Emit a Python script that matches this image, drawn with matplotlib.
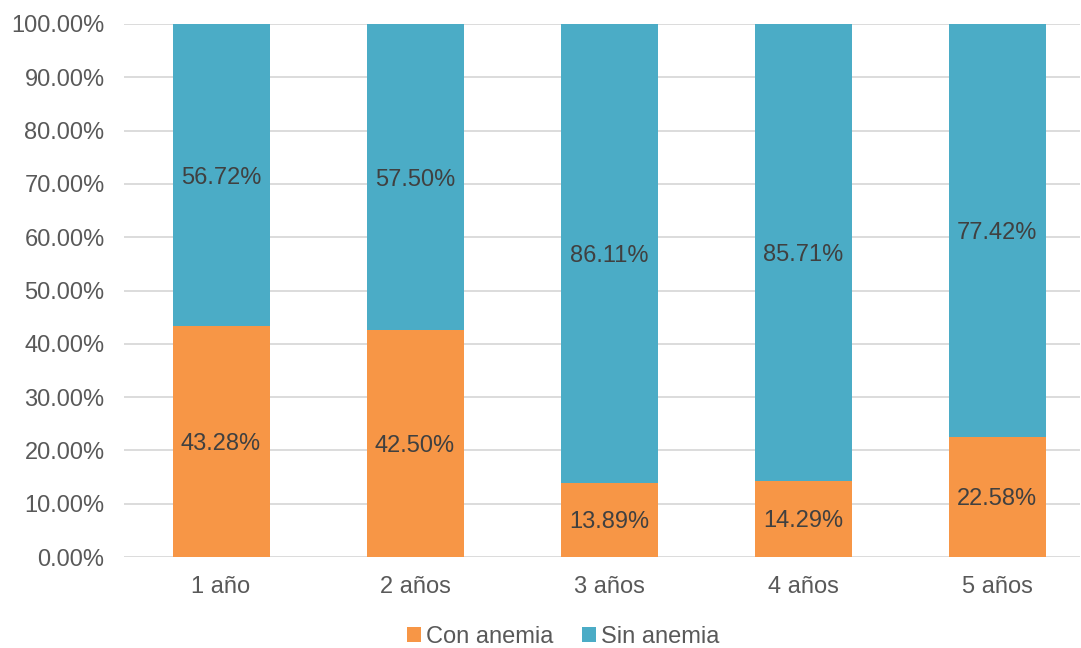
import matplotlib.pyplot as plt
from matplotlib.ticker import FuncFormatter

plt.rcParams['font.family'] = ['Liberation Sans', 'DejaVu Sans']

edades = ['1 año', '2 años', '3 años', '4 años', '5 años']
con_anemia = [43.28, 42.50, 13.89, 14.29, 22.58]
sin_anemia = [56.72, 57.50, 86.11, 85.71, 77.42]

naranja = '#f79646'
azul = '#4bacc6'

fig = plt.figure(figsize=(10.81, 6.48), dpi=100)
ax = fig.add_axes([124 / 1081, 91 / 648, 956 / 1081, 533 / 648])

x = range(len(edades))
b1 = ax.bar(x, con_anemia, width=0.5, color=naranja, label='Con anemia', zorder=3)
b2 = ax.bar(x, sin_anemia, width=0.5, bottom=con_anemia, color=azul, label='Sin anemia', zorder=3)

for rects, vals, base in ((b1, con_anemia, [0] * 5), (b2, sin_anemia, con_anemia)):
    for r, v, b in zip(rects, vals, base):
        ax.text(r.get_x() + r.get_width() / 2, b + v / 2, f'{v:.2f}%',
                ha='center', va='center_baseline', fontsize=17, color='#404040', zorder=4)

ax.set_ylim(0, 100)
ax.set_xlim(-0.5, -0.5 + 956 / 194)
ax.set_yticks(range(0, 101, 10))
ax.yaxis.set_major_formatter(FuncFormatter(lambda v, p: f'{v:.2f}%'))
ax.set_xticks(list(x))
ax.set_xticklabels(edades)
ax.tick_params(axis='both', length=0, labelsize=17, labelcolor='#595959')
ax.tick_params(axis='y', pad=14)
ax.tick_params(axis='x', pad=14)
ax.grid(axis='y', color='#d9d9d9', linewidth=1.3, zorder=0)
for s in ax.spines.values():
    s.set_visible(False)

fig.legend(handles=[b1, b2], loc='center', bbox_to_anchor=(563 / 1081, 1 - 637 / 648),
           ncol=2, frameon=False, fontsize=17, labelcolor='#595959',
           handlelength=0.6, handleheight=0.6, handletextpad=0.2, columnspacing=1.2)

fig.savefig('out.png', dpi=100)
